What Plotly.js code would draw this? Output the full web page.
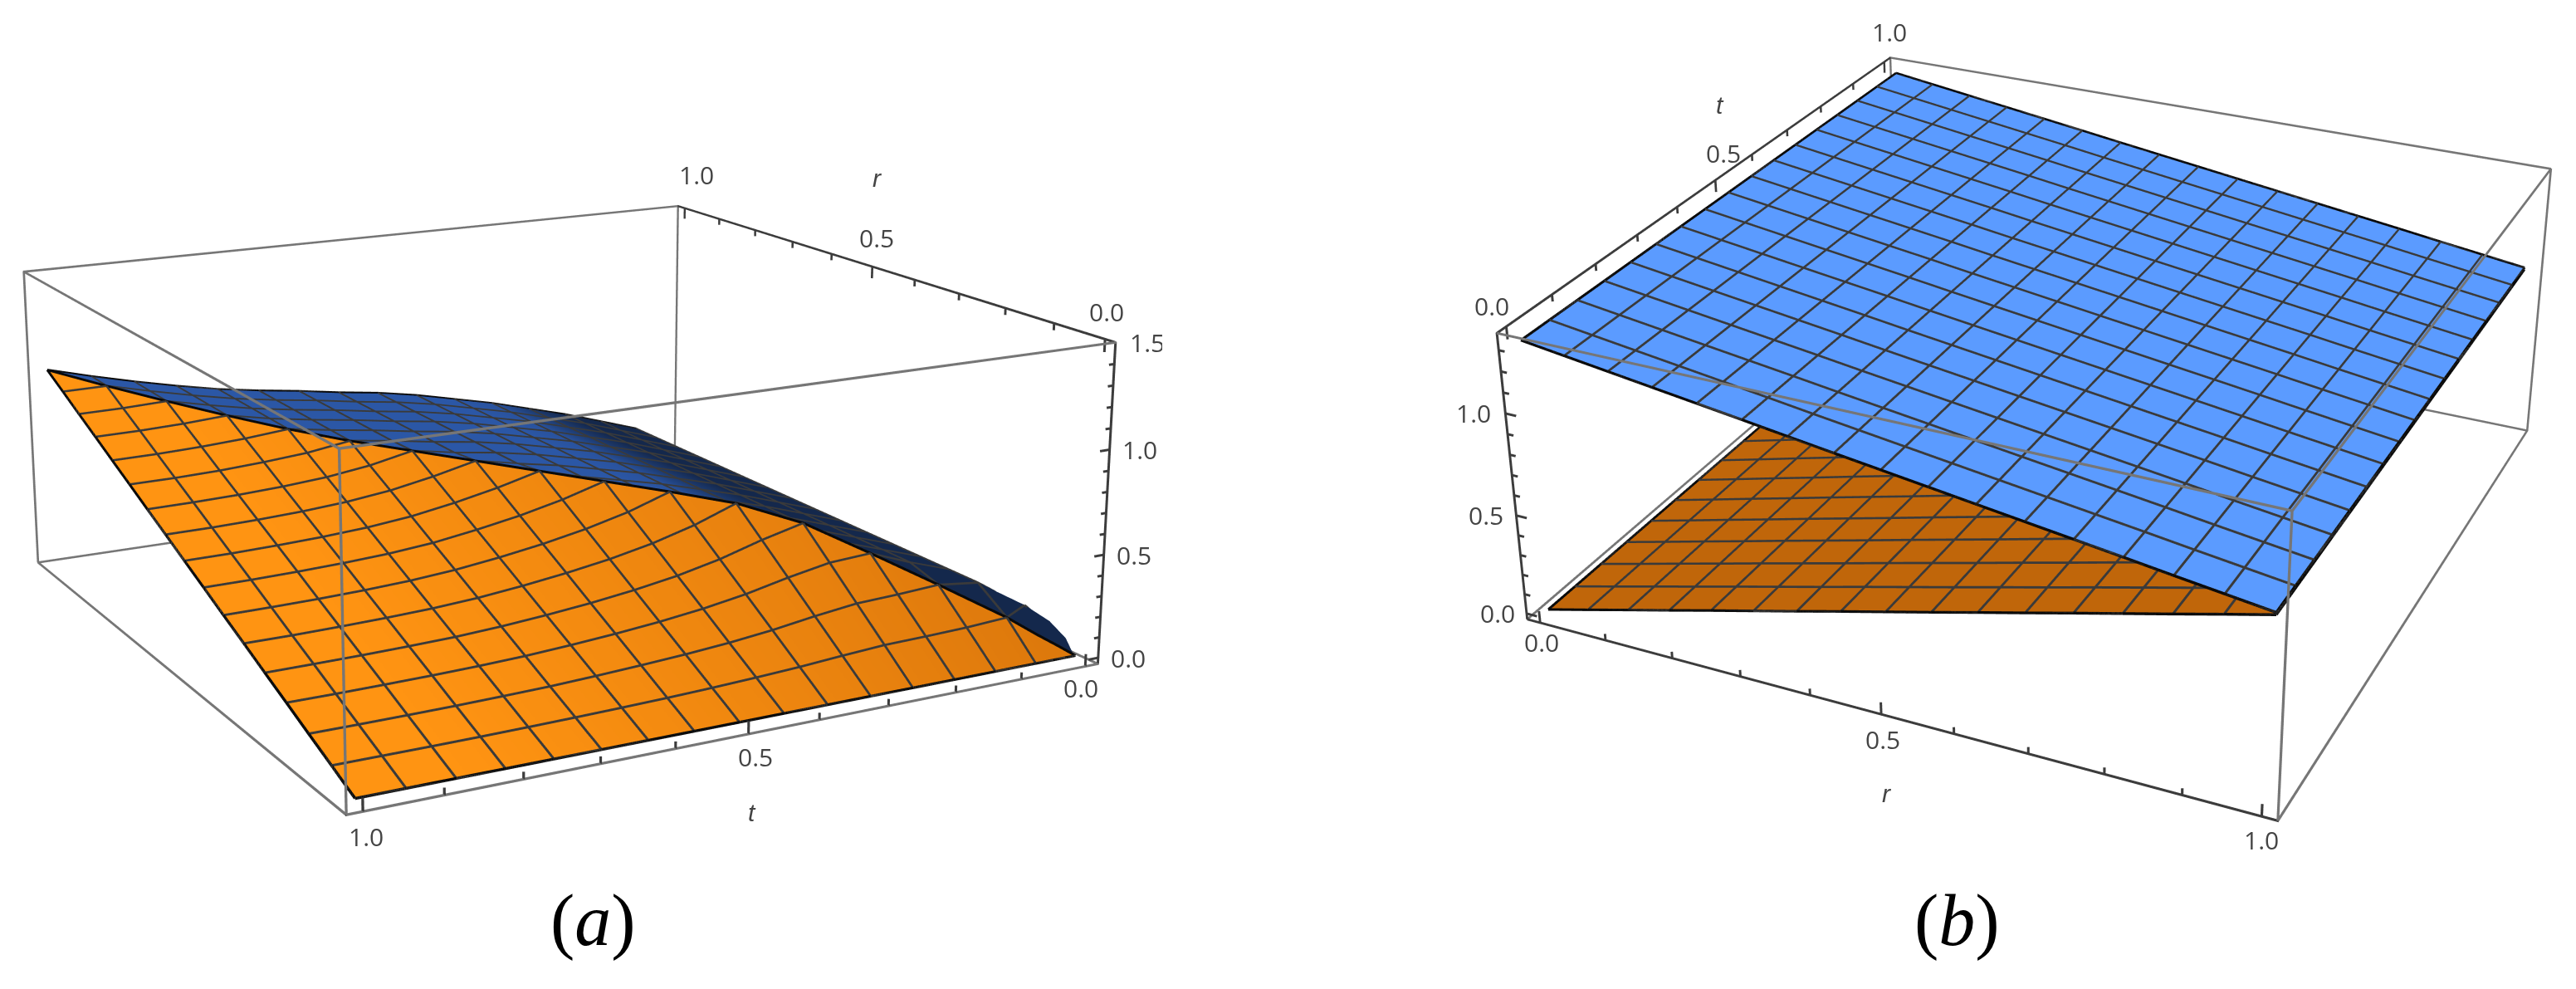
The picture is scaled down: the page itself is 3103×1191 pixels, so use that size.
<!DOCTYPE html>
<html>
<head>
<meta charset="utf-8">
<script src="https://cdn.plot.ly/plotly-3.0.1.min.js"></script>
<style>
html, body { margin: 0; width: 3103px; height: 1191px; overflow: hidden; background: #fff; }
.panel { position: absolute; }
#plotA { left: -100px; top: -875px; width: 1500px; height: 2858px; }
#plotB { left: 1628px; top: -902px; width: 1700px; height: 2734px; }
</style>
</head>
<body>
<div id="plotA" class="panel"></div>
<div id="plotB" class="panel"></div>
<script>
// mesh positions (16 cells each way)
const gridVals = [0, 0.0625, 0.125, 0.1875, 0.25, 0.3125, 0.375, 0.4375, 0.5, 0.5625, 0.625, 0.6875, 0.75, 0.8125, 0.875, 0.9375, 1];
// panel a has three more sample rows near 0, where the sheets bend hard; no mesh line there
const fineVals = [0.004, 0.016, 0.035];
const gridValsA = [0, 0.004, 0.016, 0.035, 0.0625, 0.125, 0.1875, 0.25, 0.3125, 0.375, 0.4375, 0.5, 0.5625, 0.625, 0.6875, 0.75, 0.8125, 0.875, 0.9375, 1];

// panel a, orange sheet: rows are t, entries are r from 0 up to t
const orangeA = [
  [0],
  [0, .01],
  [0, .01, .04],
  [0, .01, .039, .085],
  [0, .01, .04, .087, .155],
  [0, .009, .036, .08, .143, .285],
  [0, .009, .035, .077, .137, .273, .41],
  [0, .008, .034, .074, .133, .265, .398, .53],
  [0, .008, .031, .067, .12, .24, .36, .48, .6],
  [0, .007, .027, .059, .105, .21, .315, .42, .525, .63],
  [0, .006, .024, .052, .094, .187, .281, .374, .468, .561, .655],
  [0, .005, .022, .048, .085, .17, .255, .34, .425, .51, .595, .68],
  [0, .005, .02, .044, .078, .157, .235, .313, .392, .47, .548, .627, .705],
  [0, .005, .019, .041, .073, .146, .219, .292, .365, .438, .511, .584, .657, .73],
  [0, .004, .018, .038, .069, .137, .206, .275, .343, .412, .48, .549, .618, .686, .755],
  [0, .004, .017, .037, .066, .132, .198, .263, .329, .395, .461, .527, .593, .658, .724, .79],
  [0, .004, .016, .036, .064, .128, .193, .257, .321, .385, .45, .514, .578, .642, .707, .771, .835],
  [0, .004, .016, .035, .063, .126, .19, .253, .316, .379, .443, .506, .569, .632, .695, .759, .822, .885],
  [0, .004, .016, .035, .063, .125, .188, .251, .313, .376, .439, .501, .564, .627, .689, .752, .815, .877, .94],
  [0, .004, .016, .035, .063, .125, .188, .25, .313, .375, .438, .5, .563, .625, .688, .75, .813, .875, .938, 1]
];
// panel a, blue sheet: height per t row for r above t; at r = t it meets the orange edge
const blueA = [0, .07, .14, .2, .26, .33, .4, .46, .52, .57, .62, .66, .69, .725, .755, .79, .835, .885, .94, 1];

// panel b: heights per r column, nearly the same for every t
const blueB = [1.33, 1.302, 1.274, 1.246, 1.218, 1.19, 1.161, 1.133, 1.105, 1.077, 1.049, 1.021, .993, .965, .936, .908, .88];
const orangeB = [0, .054, .109, .163, .218, .272, .326, .381, .435, .489, .544, .598, .653, .707, .761, .816, .87];

const majorTicks = [0, 0.5, 1];
const minorTicks = [0.1, 0.2, 0.3, 0.4, 0.6, 0.7, 0.8, 0.9];
const zMajorA = [0, 0.5, 1, 1.5];
const zMinorA = [0.1, 0.2, 0.3, 0.4, 0.6, 0.7, 0.8, 0.9, 1.1, 1.2, 1.3, 1.4];
const zMajorB = [0, 0.5, 1];
const zMinorB = [0.1, 0.2, 0.3, 0.4, 0.6, 0.7, 0.8, 0.9, 1.1, 1.2, 1.3];

const xyRange = [-0.02, 1.02];
const zRangeA = [-0.03, 1.5];
const zRangeB = [-0.03, 1.38];
const ASPECT_Z = 0.4;
const PX_PER_UNIT = 960;
// the scene runs a bit past the drawn box, plotly clips anything outside its range
const PAD_XY = 0.03, PAD_Z = 0.05;
const tickFont = { family: "Open Sans", size: 30, color: "#444" };
const titleFont = { family: "Liberation Sans", size: 30, color: "#444" };
const flat = { ambient: 1, diffuse: 0, specular: 0, roughness: 1, fresnel: 0 };

// scatter3d lines come out broken in this build, so lines are thin camera-facing strips
function strips(segs, color, width, eye, zr) {
  const k = [1 / (xyRange[1] - xyRange[0]), 1 / (xyRange[1] - xyRange[0]), ASPECT_Z / (zr[1] - zr[0])];
  const c = [(xyRange[0] + xyRange[1]) / 2, (xyRange[0] + xyRange[1]) / 2, (zr[0] + zr[1]) / 2];
  const x = [], y = [], z = [], I = [], J = [], K = [];
  const add = (P, n, u, sign) => {
    x.push((P[0] + sign * n[0] + u[0]) / k[0] + c[0]);
    y.push((P[1] + sign * n[1] + u[1]) / k[1] + c[1]);
    z.push((P[2] + sign * n[2] + u[2]) / k[2] + c[2]);
  };
  segs.forEach(([p, q]) => {
    const P = p.map((v, m) => (v - c[m]) * k[m]);
    const Q = q.map((v, m) => (v - c[m]) * k[m]);
    const d = [Q[0] - P[0], Q[1] - P[1], Q[2] - P[2]];
    const v = [eye.x - P[0], eye.y - P[1], eye.z - P[2]];
    const cr = [d[1] * v[2] - d[2] * v[1], d[2] * v[0] - d[0] * v[2], d[0] * v[1] - d[1] * v[0]];
    const cl = Math.hypot(cr[0], cr[1], cr[2]) || 1, vl = Math.hypot(v[0], v[1], v[2]);
    const n = cr.map(a => a / cl * width / 2 / PX_PER_UNIT);
    const u = v.map(a => a / vl * 0.004);
    const b = x.length;
    add(P, n, u, 1); add(P, n, u, -1); add(Q, n, u, 1); add(Q, n, u, -1);
    I.push(b, b + 1); J.push(b + 1, b + 2); K.push(b + 2, b + 3);
  });
  return { type: "mesh3d", x: x, y: y, z: z, i: I, j: J, k: K, color: color, lighting: flat, flatshading: true, hoverinfo: "skip", showscale: false };
}

function toSegs(line) {
  const out = [];
  for (let m = 1; m < line.length; m++) out.push([line[m - 1], line[m]]);
  return out;
}

function mix(a, b, f) {
  const g = Math.max(0, Math.min(1, f));
  return "rgb(" + a.map((v, m) => Math.round(v + (b[m] - v) * g)).join(",") + ")";
}

// turn z(tIndex, rIndex) into a filled mesh3d trace plus strips for mesh lines and rim
function sheet(vals, zAt, colorAt, eye, zr) {
  const x = [], y = [], z = [], cols3 = [], idx = {};
  const n = vals.length;
  for (let i = 0; i < n; i++) {
    for (let j = 0; j < n; j++) {
      const v = zAt(i, j);
      if (v === null) continue;
      idx[i + "_" + j] = x.length;
      x.push(vals[j]); y.push(vals[i]); z.push(v); cols3.push(colorAt(vals[i], vals[j]));
    }
  }
  const I = [], J = [], K = [];
  const tri = (a, b, c) => {
    if (a === undefined || b === undefined || c === undefined) return;
    I.push(a); J.push(b); K.push(c);
  };
  for (let i = 0; i < n - 1; i++) {
    for (let j = 0; j < n - 1; j++) {
      const p = idx[i + "_" + j], q = idx[(i + 1) + "_" + j], r = idx[i + "_" + (j + 1)], s = idx[(i + 1) + "_" + (j + 1)];
      tri(p, s, q);
      tri(p, r, s);
    }
  }
  let meshSegs = [];
  for (let a = 0; a < n; a++) {
    if (fineVals.includes(vals[a])) continue;
    const row = [], col = [];
    for (let b = 0; b < n; b++) {
      if (zAt(a, b) !== null) row.push([vals[b], vals[a], zAt(a, b)]);
      if (zAt(b, a) !== null) col.push([vals[a], vals[b], zAt(b, a)]);
    }
    meshSegs = meshSegs.concat(toSegs(row), toSegs(col));
  }
  // rim: the triangle sides that are used once
  const used = {};
  const side = (a, b) => { const k = a < b ? a + "_" + b : b + "_" + a; used[k] = (used[k] || 0) + 1; };
  for (let m = 0; m < I.length; m++) { side(I[m], J[m]); side(J[m], K[m]); side(K[m], I[m]); }
  const rimSegs = [];
  Object.keys(used).forEach(k => {
    if (used[k] !== 1) return;
    const [a, b] = k.split("_").map(Number);
    rimSegs.push([[x[a], y[a], z[a]], [x[b], y[b], z[b]]]);
  });
  return [
    { type: "mesh3d", x: x, y: y, z: z, i: I, j: J, k: K, vertexcolor: cols3, lighting: flat, hoverinfo: "skip", showscale: false },
    strips(meshSegs, "#3a3a3a", 2.6, eye, zr),
    strips(rimSegs, "#0a0a0a", 3, eye, zr)
  ];
}

// the twelve edges of the box, grey
function boxEdges(zr, eye) {
  const [a, b] = xyRange, [c, d] = zr;
  const low = [[a, a, c], [b, a, c], [b, b, c], [a, b, c]];
  const top = [[a, a, d], [b, a, d], [b, b, d], [a, b, d]];
  const segs = [];
  for (let m = 0; m < 4; m++) {
    segs.push([low[m], low[(m + 1) % 4]], [top[m], top[(m + 1) % 4]], [low[m], top[m]]);
  }
  return strips(segs, "#767676", 2.8, eye, zr);
}

// dark axis line with ticks: at(v) gives the point on the axis, dir the major tick
function axisSegs(major, minor, at, dir, ends) {
  const segs = [[at(ends[0]), at(ends[1])]];
  const tick = (v, f) => {
    const p = at(v);
    segs.push([p, [p[0] + dir[0] * f, p[1] + dir[1] * f, p[2] + dir[2] * f]]);
  };
  major.forEach(v => tick(v, 1));
  minor.forEach(v => tick(v, 0.55));
  return segs;
}

function label(x, y, z, text, xs, ys, font) {
  return { x: x, y: y, z: z, text: text, showarrow: false, xshift: xs, yshift: ys, font: font || tickFont };
}

function scene(eye, zr, notes) {
  const spanXY = xyRange[1] - xyRange[0], spanZ = zr[1] - zr[0];
  const off = (r, p) => ({ visible: false, range: [r[0] - p, r[1] + p], showspikes: false });
  return {
    domain: { x: [0, 1], y: [0, 1] },
    aspectmode: "manual",
    aspectratio: {
      x: (spanXY + 2 * PAD_XY) / spanXY,
      y: (spanXY + 2 * PAD_XY) / spanXY,
      z: ASPECT_Z * (spanZ + 2 * PAD_Z) / spanZ
    },
    camera: { eye: eye, center: { x: 0, y: 0, z: 0 }, up: { x: 0, y: 0, z: 1 }, projection: { type: "perspective" } },
    xaxis: off(xyRange, PAD_XY), yaxis: off(xyRange, PAD_XY), zaxis: off(zr, PAD_Z),
    annotations: notes
  };
}

function caption(letter, px, py, box) {
  return {
    xref: "paper", yref: "paper", x: (px - box.left) / box.w, y: 1 - (py - box.top) / box.h,
    xanchor: "center", yanchor: "middle",
    text: "(<i>" + letter + "</i>)", showarrow: false,
    font: { family: "Liberation Serif", size: 88, color: "#000" }
  };
}

const cfg = { displayModeBar: false };
const xa = xyRange[0];

// panel a: x is r, y is t
const eyeA = { x: -3.07, y: 1.65, z: 0.967 };
const tracesA = [
  ...sheet(gridValsA, (i, j) => (j <= i ? orangeA[i][j] : null), (t, r) => mix([220, 120, 12], [255, 148, 18], t * 1.15), eyeA, zRangeA),
  ...sheet(gridValsA, (i, j) => (j < i ? null : j === i ? orangeA[i][i] : blueA[i]), (t, r) => mix([20, 40, 76], [43, 87, 166], (t - 0.2) * 8), eyeA, zRangeA),
  boxEdges(zRangeA, eyeA),
  strips([].concat(
    axisSegs(majorTicks, minorTicks, v => [xa, v, zRangeA[0]], [0, 0, 0.06], xyRange),
    axisSegs(majorTicks, minorTicks, v => [v, xa, zRangeA[1]], [0, 0, -0.06], xyRange),
    axisSegs(zMajorA, zMinorA, v => [xa, xa, v], [0, 0.015, 0], zRangeA)
  ), "#3c3c3c", 2.8, eyeA, zRangeA)
];
const notesA = [
  label(xa, 1, zRangeA[0], "1.0", 4, -30), label(xa, 0.5, zRangeA[0], "0.5", 8, -28), label(xa, 0, zRangeA[0], "0.0", -5, -26),
  label(xa, 0.5, zRangeA[0], "<i>t</i>", 4, -95, titleFont),
  label(1, xa, zRangeA[1], "1.0", 14, 40), label(0.5, xa, zRangeA[1], "0.5", 5, 35), label(0, xa, zRangeA[1], "0.0", 2, 33),
  label(0.5, xa, zRangeA[1], "<i>r</i>", 6, 107, titleFont),
  label(xa, xa, 0, "0.0", 36, 0), label(xa, xa, 0.5, "0.5", 36, 0), label(xa, xa, 1, "1.0", 36, 0), label(xa, xa, 1.5, "1.5", 38, 0)
];
const boxA = { left: -100, top: -875, w: 1500, h: 2858 };
Plotly.newPlot("plotA", tracesA, {
  width: boxA.w, height: boxA.h, margin: { l: 0, r: 0, t: 0, b: 0 }, showlegend: false, paper_bgcolor: "rgba(0,0,0,0)",
  scene: scene(eyeA, zRangeA, notesA),
  annotations: [caption("a", 714, 1108, boxA)]
}, cfg);

// panel b
const eyeB = { x: 1.31, y: -2.86, z: 1.65 };
const tracesB = [
  ...sheet(gridVals, (i, j) => orangeB[j], () => "rgb(192,102,10)", eyeB, zRangeB),
  ...sheet(gridVals, (i, j) => blueB[j], () => "rgb(91,155,255)", eyeB, zRangeB),
  boxEdges(zRangeB, eyeB),
  strips([].concat(
    axisSegs(majorTicks, minorTicks, v => [v, xa, zRangeB[0]], [0, 0, 0.06], xyRange),
    axisSegs(majorTicks, minorTicks, v => [xa, v, zRangeB[1]], [0, 0, -0.06], xyRange),
    axisSegs(zMajorB, zMinorB, v => [xa, xa, v], [0.016, 0, 0], zRangeB)
  ), "#3c3c3c", 2.8, eyeB, zRangeB)
];
const notesB = [
  label(0, xa, zRangeB[0], "0.0", 2, -24), label(0.5, xa, zRangeB[0], "0.5", 2, -30), label(1, xa, zRangeB[0], "1.0", 0, -28),
  label(0.5, xa, zRangeB[0], "<i>r</i>", 6, -95, titleFont),
  label(xa, 0, zRangeB[1], "0.0", -17, 25), label(xa, 0.5, zRangeB[1], "0.5", 10, 32), label(xa, 1, zRangeB[1], "1.0", 6, 36),
  label(xa, 0.5, zRangeB[1], "<i>t</i>", 6, 90, titleFont),
  label(xa, xa, 0, "0.0", -35, 0), label(xa, xa, 0.5, "0.5", -36, 0), label(xa, xa, 1, "1.0", -38, 0)
];
const boxB = { left: 1628, top: -902, w: 1700, h: 2734 };
Plotly.newPlot("plotB", tracesB, {
  width: boxB.w, height: boxB.h, margin: { l: 0, r: 0, t: 0, b: 0 }, showlegend: false, paper_bgcolor: "rgba(0,0,0,0)",
  scene: scene(eyeB, zRangeB, notesB),
  annotations: [caption("b", 2357, 1108, boxB)]
}, cfg);
</script>
</body>
</html>
